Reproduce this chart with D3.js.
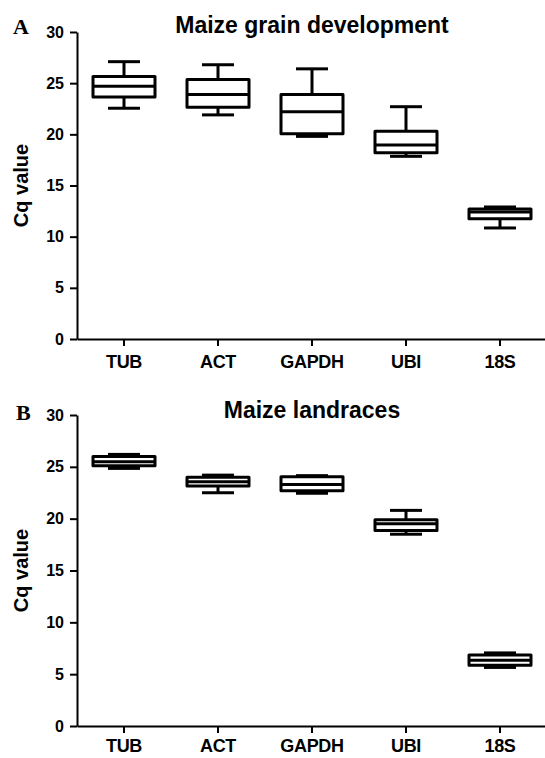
<!DOCTYPE html>
<html>
<head>
<meta charset="utf-8">
<script src="https://cdn.jsdelivr.net/npm/d3@7"></script>
<style>
  body { margin: 0; background: #fff; }
  svg { display: block; font-family: Arial, "Liberation Sans", sans-serif; }
</style>
</head>
<body>
<svg id="chart" width="545" height="758"></svg>
<script>
'use strict';

// reference genes on the x axis
const genes = ['TUB', 'ACT', 'GAPDH', 'UBI', '18S'];
const yTicks = [0, 5, 10, 15, 20, 25, 30];

// A - maize grain development (Cq)
const grainMin = [22.55, 21.9, 19.8, 17.85, 10.85];
const grainQ1 = [23.65, 22.65, 20.05, 18.2, 11.75];
const grainMedian = [24.7, 23.9, 22.2, 18.95, 12.4];
const grainQ3 = [25.65, 25.35, 23.9, 20.3, 12.7];
const grainMax = [27.1, 26.8, 26.4, 22.7, 12.9];

// B - maize landraces
const landMin = [24.85, 22.5, 22.45, 18.5, 5.65];
const landQ1 = [25.1, 23.15, 22.7, 18.85, 5.85];
const landMedian = [25.5, 23.55, 23.3, 19.5, 6.35];
const landQ3 = [26.0, 24.0, 24.05, 19.9, 6.85];
const landMax = [26.2, 24.2, 24.15, 20.8, 7.05];

// pack the arrays into one row per gene
const rows = (mn, q1, md, q3, mx) => genes.map((g, i) => ({
  gene: g, min: mn[i], q1: q1[i], median: md[i], q3: q3[i], max: mx[i],
}));

const svg = d3.select('#chart');
const left = 77;
const right = 547;

const drawPanel = function (p) {
  const data = rows(...p.stats);

  const y = d3.scaleLinear().domain([0, 30]).range([p.bottom, p.top]);
  const x = d3.scaleBand().domain(genes).range([left, right]);
  const boxW = 62;
  const capW = 32;

  const g = svg.append('g');

  // y axis
  g.append('g')
    .attr('transform', `translate(${left},0)`)
    .call(d3.axisLeft(y).tickValues(yTicks).tickSize(7).tickSizeOuter(0).tickPadding(6))
    .call(a => a.selectAll('path, line').attr('stroke', '#000').attr('stroke-width', 2))
    .call(a => a.selectAll('text').attr('fill', '#000')
      .style('font-size', '16px').style('font-weight', 'bold'));

  // x axis
  g.append('g')
    .attr('transform', `translate(0,${p.bottom})`)
    .call(d3.axisBottom(x).tickSize(7).tickSizeOuter(0).tickPadding(p.labelPad))
    .call(a => a.selectAll('path, line').attr('stroke', '#000').attr('stroke-width', 2))
    .call(a => a.selectAll('text').attr('fill', '#000')
      .style('font-size', '18px').style('font-weight', 'bold').style('letter-spacing', '-0.3px'));

  const box = g.selectAll('g.box')
    .data(data)
    .join('g')
    .attr('class', 'box')
    .attr('transform', d => `translate(${x(d.gene) + x.bandwidth() / 2},0)`)
    .attr('stroke', '#000')
    .attr('stroke-width', 3)
    .attr('stroke-linejoin', 'round');

  // whiskers
  box.append('line')
    .attr('x1', 0).attr('x2', 0)
    .attr('y1', d => y(d.max)).attr('y2', d => y(d.q3));
  box.append('line')
    .attr('x1', 0).attr('x2', 0)
    .attr('y1', d => y(d.q1)).attr('y2', d => y(d.min));
  box.append('line')
    .attr('x1', -capW / 2).attr('x2', capW / 2)
    .attr('y1', d => y(d.max)).attr('y2', d => y(d.max));
  box.append('line')
    .attr('x1', -capW / 2).attr('x2', capW / 2)
    .attr('y1', d => y(d.min)).attr('y2', d => y(d.min));

  // box + median
  box.append('rect')
    .attr('x', -boxW / 2)
    .attr('width', boxW)
    .attr('y', d => y(d.q3))
    .attr('height', d => y(d.q1) - y(d.q3))
    .attr('fill', '#fff');
  box.append('line')
    .attr('x1', -boxW / 2).attr('x2', boxW / 2)
    .attr('y1', d => y(d.median)).attr('y2', d => y(d.median));

  // title
  g.append('text')
    .attr('x', (left + right) / 2)
    .attr('y', p.titleY)
    .attr('text-anchor', 'middle')
    .style('font-size', '23px').style('font-weight', 'bold')
    .text(p.title);

  // y label
  g.append('text')
    .attr('transform', `translate(28,${(p.top + p.bottom) / 2}) rotate(-90)`)
    .attr('text-anchor', 'middle')
    .style('font-size', '20px').style('font-weight', 'bold')
    .text('Cq value');

  // panel letter
  g.append('text')
    .attr('x', p.letterX)
    .attr('y', p.letterY)
    .style('font-family', '"Liberation Serif", "Times New Roman", serif')
    .style('font-size', '22px').style('font-weight', 'bold')
    .text(p.letter);
};

drawPanel({
  stats: [grainMin, grainQ1, grainMedian, grainQ3, grainMax],
  top: 32, bottom: 339, labelPad: 9,
  title: 'Maize grain development', titleY: 33,
  letter: 'A', letterX: 13, letterY: 34,
});

drawPanel({
  stats: [landMin, landQ1, landMedian, landQ3, landMax],
  top: 415, bottom: 726, labelPad: 6,
  title: 'Maize landraces', titleY: 418,
  letter: 'B', letterX: 16, letterY: 420,
});
</script>
</body>
</html>
